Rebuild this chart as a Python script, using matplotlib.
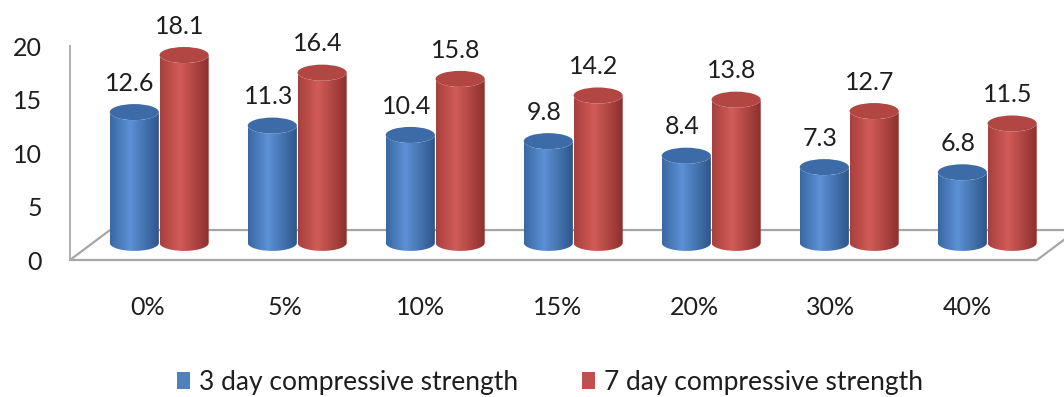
import numpy as np
import matplotlib
matplotlib.use("Agg")
import matplotlib.pyplot as plt
from matplotlib.patches import Polygon, Ellipse, PathPatch, Patch
from matplotlib.path import Path
from matplotlib.colors import LinearSegmentedColormap

plt.rcParams['font.family'] = ['Lato', 'DejaVu Sans']

categories = ['0%', '5%', '10%', '15%', '20%', '30%', '40%']
day3 = [12.6, 11.3, 10.4, 9.8, 8.4, 7.3, 6.8]
day7 = [18.1, 16.4, 15.8, 14.2, 13.8, 12.7, 11.5]
series_names = ['3 day compressive strength', '7 day compressive strength']
yticks = [0, 5, 10, 15, 20]

# fake 3d settings (bars sit a bit back from the front edge)
base = 1.6       # floor level of the bars in value units
sy = 0.97        # height scale at bar depth
sx = 1.011       # spacing scale at bar depth
bar_w = 0.36
ell_h = 1.5
offsets = [-0.10, 0.265]

blue_stops = ['#3a68a4', '#5c91d5', '#2c5488']
red_stops = ['#a8403d', '#d25b58', '#8a2f2c']
tops = ['#3d6ba8', '#b24643']
legend_cols = ['#4f81bd', '#c0504d']
txt = '#1e1e1e'

fig = plt.figure(figsize=(10.64, 3.97), dpi=100)
ax = fig.add_axes([70 / 1064, (397 - 260) / 397, (1037 - 70) / 1064, 214 / 397])
xl, xr = -0.571, 6.513
ax.set_xlim(xl, xr)
ax.set_ylim(0, 20)
for s in ax.spines.values():
    s.set_visible(False)

# floor
dx, dy = 0.293, 2.8
floor = Polygon([[xl, 0], [xr, 0], [xr + dx, dy], [xl + dx, dy]], closed=True,
                facecolor='white', edgecolor='#a6a6a6', lw=1.6, clip_on=False, zorder=1)
ax.add_patch(floor)
ax.plot([xl, xl], [0, 20], color='#b0b0b0', lw=1.4, clip_on=False, zorder=1)


def cylinder(xc, val, stops, top_col):
    x0, x1 = xc - bar_w / 2, xc + bar_w / 2
    ytop = base + val * sy
    t = np.linspace(0, np.pi, 60)
    # outline: down left side, bottom front arc, up right side, top front arc
    bottom = np.column_stack([xc - bar_w / 2 * np.cos(t), base - ell_h / 2 * np.sin(t)])
    top = np.column_stack([xc + bar_w / 2 * np.cos(t), ytop - ell_h / 2 * np.sin(t)])
    verts = np.vstack([[[x0, ytop]], bottom, top])
    path = Path(verts, closed=False)
    clip = PathPatch(path, transform=ax.transData, facecolor='none', edgecolor='none')
    ax.add_patch(clip)
    cmap = LinearSegmentedColormap.from_list('c', list(zip([0, 0.4, 1], stops)))
    grad = np.linspace(0, 1, 200).reshape(1, -1)
    im = ax.imshow(grad, cmap=cmap, aspect='auto', extent=[x0, x1, base - ell_h, ytop + ell_h],
                   zorder=3, interpolation='bilinear')
    im.set_clip_path(clip)
    ax.add_patch(Ellipse((xc, ytop), bar_w, ell_h, facecolor=top_col, edgecolor='none', zorder=4))
    return ytop


for i in range(len(categories)):
    for j, vals in enumerate([day3, day7]):
        xc = i * sx + offsets[j]
        stops = blue_stops if j == 0 else red_stops
        ytop = cylinder(xc, vals[i], stops, tops[j])
        ax.text(xc - 0.03, ytop + 2.7, f'{vals[i]:.1f}', ha='center', va='center',
                fontsize=18, color=txt, zorder=5)

ax.set_xlim(xl, xr)
ax.set_ylim(0, 20)
ax.set_yticks(yticks)
ax.set_yticklabels([str(v) for v in yticks], fontsize=18, color=txt)
ax.set_xticks(range(len(categories)))
ax.set_xticklabels(categories, fontsize=18, color=txt)
ax.tick_params(axis='y', length=0, pad=20)
ax.tick_params(axis='x', length=0, pad=26)

handles = [Patch(facecolor=c, edgecolor='none') for c in legend_cols]
fig.legend(handles, series_names, loc='center', bbox_to_anchor=(0.517, 0.037), ncol=2,
           frameon=False, fontsize=19, handlelength=0.5, handleheight=0.6, handletextpad=0.35,
           columnspacing=2.4, labelcolor=txt)

fig.savefig('out.png', dpi=100)
